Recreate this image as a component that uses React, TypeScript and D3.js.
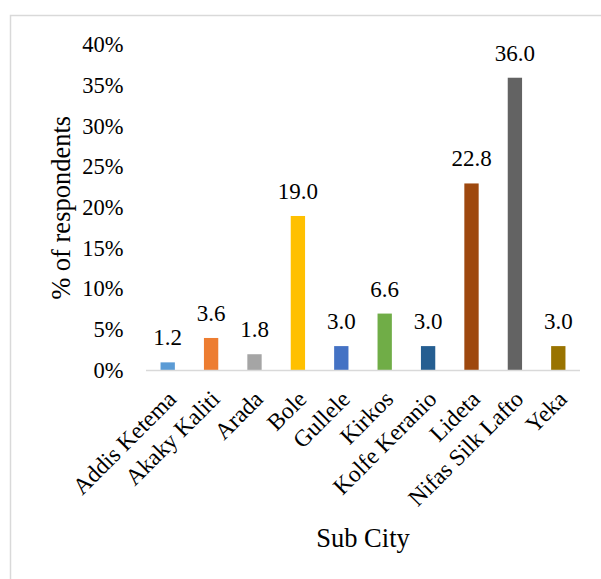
import * as d3 from 'd3'

const subCities = [
  'Addis Ketema',
  'Akaky Kaliti',
  'Arada',
  'Bole',
  'Gullele',
  'Kirkos',
  'Kolfe Keranio',
  'Lideta',
  'Nifas Silk Lafto',
  'Yeka',
]
// bar heights as drawn (percent)
const barShare = [1.0, 4.0, 2.0, 19.0, 3.0, 7.0, 3.0, 23.0, 36.0, 3.0]
// data labels printed above the bars
const labelValues = [1.2, 3.6, 1.8, 19.0, 3.0, 6.6, 3.0, 22.8, 36.0, 3.0]
const barColors = [
  '#5B9BD5',
  '#ED7D31',
  '#A5A5A5',
  '#FFC000',
  '#4472C4',
  '#70AD47',
  '#255E91',
  '#9E480E',
  '#636363',
  '#997300',
]
const yTicks = [0, 5, 10, 15, 20, 25, 30, 35, 40]

const W = 601
const H = 579
const FONT = '"Liberation Serif", "Times New Roman", serif'

export default function App() {
  const x = d3.scaleBand<string>().domain(subCities).range([146, 580]).paddingInner(0.67).paddingOuter(0.335)
  const y = d3.scaleLinear().domain([0, 40]).range([370.5, 45.2])
  const axisY = y(0)

  return (
    <svg
      width={W}
      height={H}
      viewBox={`0 0 ${W} ${H}`}
      style={{ position: 'absolute', left: 0, top: 0, background: '#fff' }}
      fontFamily={FONT}
    >
      <rect x={10.5} y={15.5} width={W + 20} height={H + 20} fill="#fff" stroke="#d9d9d9" strokeWidth={1.5} />

      {yTicks.map((t) => (
        <text key={t} x={123.5} y={y(t)} dy="0.32em" textAnchor="end" fontSize={22.5} fill="#000">
          {t}%
        </text>
      ))}

      {subCities.map((c, i) => (
        <rect
          key={c}
          x={x(c)!}
          y={y(barShare[i])}
          width={x.bandwidth()}
          height={axisY - y(barShare[i])}
          fill={barColors[i]}
        />
      ))}

      <line x1={146} x2={580} y1={axisY} y2={axisY} stroke="#d9d9d9" strokeWidth={1.5} />

      {subCities.map((c, i) => (
        <text
          key={c}
          x={x(c)! + x.bandwidth() / 2}
          y={y(barShare[i]) - 17}
          textAnchor="middle"
          fontSize={23}
          fill="#000"
        >
          {labelValues[i].toFixed(1)}
        </text>
      ))}

      {subCities.map((c) => {
        const cx = x(c)! + x.bandwidth() / 2
        return (
          <text
            key={c}
            transform={`translate(${cx + 10},${axisY + 30}) rotate(-45)`}
            textAnchor="end"
            fontSize={23.5}
            fill="#000"
          >
            {c}
          </text>
        )
      })}

      <text
        transform={`translate(70,${(y(0) + y(40)) / 2}) rotate(-90)`}
        textAnchor="middle"
        fontSize={26.5}
        fill="#000"
      >
        % of respondents
      </text>
      <text x={363} y={547} textAnchor="middle" fontSize={26.5} fill="#000">
        Sub City
      </text>
    </svg>
  )
}
